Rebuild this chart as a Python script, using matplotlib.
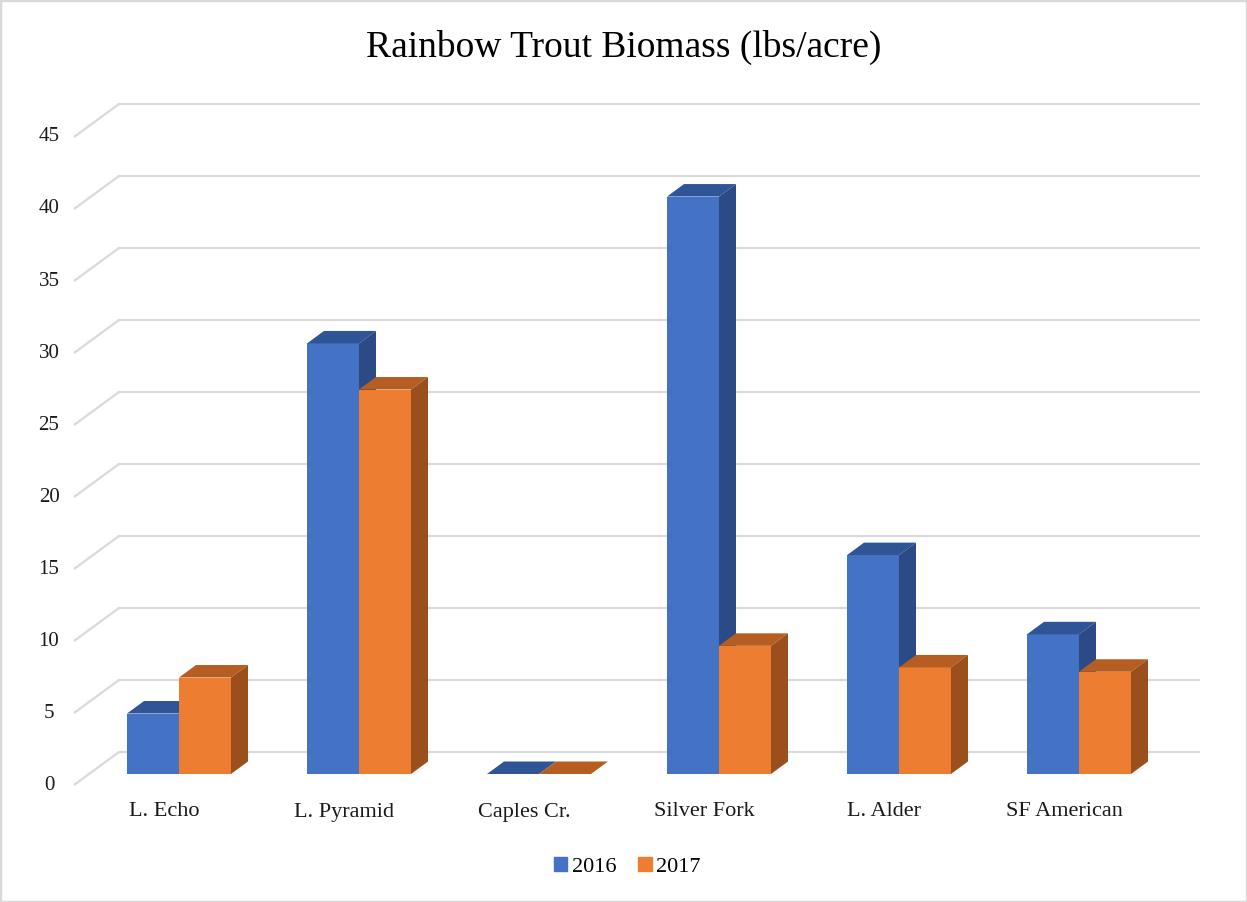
import matplotlib.pyplot as plt
from matplotlib.patches import Polygon, Patch, Rectangle

plt.rcParams['font.family'] = ['Liberation Serif', 'DejaVu Serif']

categories = ['L. Echo', 'L. Pyramid', 'Caples Cr.', 'Silver Fork', 'L. Alder', 'SF American']
biomass_2016 = [4.2, 29.9, 0, 40.1, 15.2, 9.7]
biomass_2017 = [6.7, 26.7, 0, 8.9, 7.4, 7.1]
y_ticks = [0, 5, 10, 15, 20, 25, 30, 35, 40, 45]

# layout in pixels (figure is 1247 x 902 at dpi 100)
W, H = 1247, 902
PX_CAT = 180.0      # pixels per category
PX_VAL = 14.4       # pixels per lbs/acre
X0_PX = 179.0       # first group centre
BASE_PX = 774.0     # bar baseline from top

def ux(px):
    return px / PX_CAT

def uy(px):
    return px / PX_VAL

bar_w = ux(52)
depth_dx, depth_dy = ux(17), uy(12.5)

fig = plt.figure(figsize=(W / 100, H / 100), dpi=100)
ax = fig.add_axes([0, 0, 1, 1])
ax.set_xlim(-X0_PX / PX_CAT, (W - X0_PX) / PX_CAT)
ax.set_ylim(-(H - BASE_PX) / PX_VAL, BASE_PX / PX_VAL)
ax.axis('off')

# gridlines: slanted floor edge + back wall line
grid_c = '#d9d9d9'
front_x, back_x0, back_x1 = ux(74 - X0_PX), ux(119 - X0_PX), ux(1200 - X0_PX)
front_off, back_off = uy(-11), uy(22)
for v in y_ticks:
    ax.plot([front_x, back_x0, back_x1], [v + front_off, v + back_off, v + back_off],
            color=grid_c, lw=1.6, solid_capstyle='butt', zorder=1)
    ax.text(ux(49 - X0_PX), v + front_off, str(v), ha='center', va='center',
            fontsize=15, color='#1a1a1a')

def draw_bar(x_left, h, front, top, side):
    x_right = x_left + bar_w
    ax.add_patch(Polygon([(x_left, 0), (x_right, 0), (x_right, h), (x_left, h)],
                         closed=True, fc=front, ec='none', zorder=3))
    ax.add_patch(Polygon([(x_left, h), (x_right, h),
                          (x_right + depth_dx, h + depth_dy), (x_left + depth_dx, h + depth_dy)],
                         closed=True, fc=top, ec='none', zorder=3))
    ax.add_patch(Polygon([(x_right, 0), (x_right + depth_dx, depth_dy),
                          (x_right + depth_dx, h + depth_dy), (x_right, h)],
                         closed=True, fc=side, ec='none', zorder=3))

blue = ('#4472c4', '#2f5597', '#2b4a86')
orange = ('#ed7d31', '#b65e22', '#9b4f1d')

for i, cat in enumerate(categories):
    draw_bar(i - bar_w, biomass_2016[i], *blue)
    draw_bar(i, biomass_2017[i], *orange)
    ax.text(i - ux(15), uy(BASE_PX - 812), cat, ha='center', va='center',
            fontsize=16, color='#1a1a1a')

fig.text(0.5, 1 - 47 / H, 'Rainbow Trout Biomass (lbs/acre)', ha='center', va='center',
         fontsize=27, color='#000000')

handles = [Patch(color=blue[0]), Patch(color=orange[0])]
fig.legend(handles, ['2016', '2017'], loc='center', bbox_to_anchor=(0.503, 1 - 867 / H),
           ncol=2, frameon=False, fontsize=16, handlelength=0.6, handleheight=0.6,
           handletextpad=0.2, columnspacing=1.0)

fig.patches.append(Rectangle((0, 0), 1, 1, transform=fig.transFigure, fill=False,
                             ec='#d9d9d9', lw=2.5))

fig.savefig('out.png', dpi=100)
